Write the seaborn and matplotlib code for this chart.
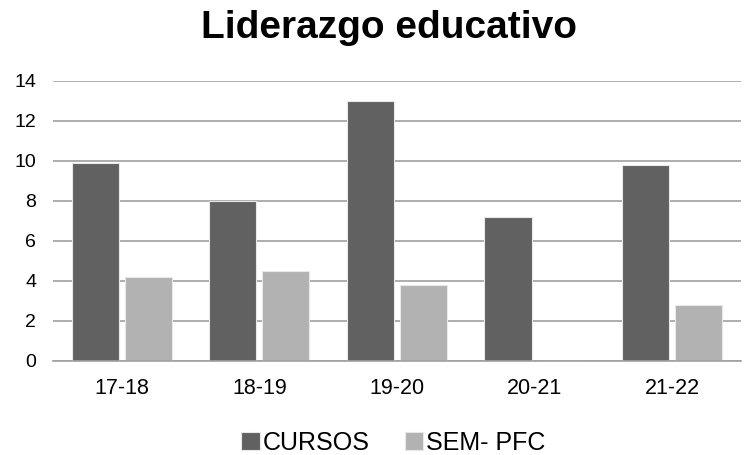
import numpy as np
import pandas as pd
import matplotlib
matplotlib.use('Agg')
import matplotlib.pyplot as plt
import seaborn as sns

# datos
cursos_labels = ['17-18', '18-19', '19-20', '20-21', '21-22']
cursos = [9.9, 8.0, 13.0, 7.2, 9.8]
sem_pfc = [4.2, 4.5, 3.8, 0.0, 2.8]
series = ['CURSOS', 'SEM- PFC']
colores = ['#616161', '#b2b2b2']

sns.set_theme(style='white')
plt.rcParams['font.family'] = ['Liberation Sans', 'DejaVu Sans']
plt.rcParams['text.color'] = 'black'

df = pd.DataFrame({
    'curso': cursos_labels * 2,
    'valor': cursos + sem_pfc,
    'serie': [series[0]] * 5 + [series[1]] * 5,
})

fig = plt.figure(figsize=(7.46, 4.55), dpi=100)
ax = fig.add_axes([0.071, 0.2066, 0.922, 0.6154])

sns.barplot(data=df, x='curso', y='valor', hue='serie', palette=colores,
            width=0.77, gap=0.11, edgecolor='#e8e8e8', linewidth=0.8,
            saturation=1, ax=ax)

ax.set_ylim(0, 14)
ax.set_yticks(range(0, 15, 2))
ax.set_xlim(-0.5, 4.5)
ax.grid(axis='y', color='#a0a0a0', linewidth=1.2)
ax.set_axisbelow(True)
for s in ['top', 'right', 'left']:
    ax.spines[s].set_visible(False)
ax.spines['bottom'].set_color('#a0a0a0')
ax.spines['bottom'].set_linewidth(1.2)
ax.tick_params(axis='y', length=0, labelsize=14, colors='black', pad=12)
ax.tick_params(axis='x', length=0, labelsize=15.5, colors='black', pad=12)
ax.set_xlabel('')
ax.set_ylabel('')

fig.suptitle('Liderazgo educativo', x=0.522, y=0.978, fontsize=28,
             fontweight='bold', color='black')

ax.legend(loc='upper center', bbox_to_anchor=(0.495, -0.205), ncol=2, frameon=False,
          fontsize=18, handlelength=0.75, handleheight=0.75, handletextpad=0.1,
          columnspacing=1.4, borderpad=0)

plt.savefig('out.png', dpi=100)
